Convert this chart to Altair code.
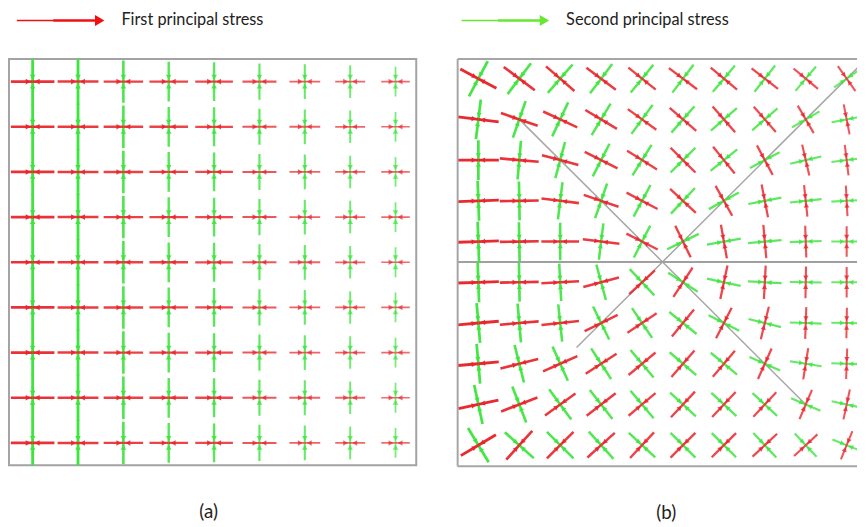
import math
import altair as alt
import pandas as pd

# ---------------- data ----------------
LEGEND_LABELS = ["First principal stress", "Second principal stress"]
PANEL_LABELS = ["(a)", "(b)"]
COLORS = ["#e8262c", "#3fe43f"]

# panel (a): 9 x 9 grid, first principal stress horizontal, second vertical
A_NCOLS = 9
A_NROWS = 9
A_RED_ANGLE = 0.0
A_RED_LEN = [0.96, 0.90, 0.87, 0.85, 0.83, 0.75, 0.68, 0.66, 0.63]     # by column (cell units)
A_GREEN_LEN = [1.02, 1.02, 0.94, 0.88, 0.86, 0.80, 0.77, 0.72, 0.66]   # by column

# panel (b): 10 x 10 grid, angle (deg) of first principal stress, rows top -> bottom
B_NCOLS = 10
B_NROWS = 10
B_RED_ANGLE = [
    [-28, -37, -41, -37, -39, -37, -40, -38, -40, -55],
    [-7, -19, -25, -31, -36, -41, -49, -49, -60, -79],
    [0, -5, -15, -27, -32, -45, -51, -62, -77, -83],
    [2, 1, -7, -19, -28, -43, -61, -79, -84, -87],
    [2, 1, 0, -7, -27, -64, -80, -85, -88, -90],
    [2, 1, 3, 15, 43, 57, 78, 87, 89, 90],
    [5, 5, 6, 26, 34, 51, 63, 76, 88, 89],
    [5, 14, 24, 33, 40, 49, 50, 66, 81, 88],
    [12, 21, 36, 38, 40, 47, 47, 47, 67, 78],
    [31, 48, 45, 42, 47, 45, 45, 43, 43, 68],
]
B_RED_LEN = [1.00, 0.95, 0.92, 0.90, 0.86, 0.86, 0.84, 0.82, 0.78, 0.75]
B_GREEN_LEN = [0.98, 0.95, 0.92, 0.90, 0.88, 0.86, 0.84, 0.82, 0.78, 0.75]

# grey crack lines of panel (b), grid units
B_LINE_X1 = [1.0, 2.4]
B_LINE_Y1 = [1.0, 6.6]
B_LINE_X2 = [8.0, 9.6]
B_LINE_Y2 = [8.0, -0.6]
B_MID_ROW = [4.5]


def field(points, head_d):
    """points: (col, row, angle_deg, length, stress). Returns arm table."""
    recs = []
    for (c, r, th, L, st) in points:
        for s in (1, -1):
            ang = th if s == 1 else th + 180.0
            t = math.radians(ang)
            recs.append({
                "x": c, "y": r,
                "x2": c + L / 2 * math.cos(t),
                "y2": r - L / 2 * math.sin(t),
                "hx": c + head_d * math.cos(t),
                "hy": r - head_d * math.sin(t),
                "ha": (-90.0 - ang) % 360.0,
                "stress": st,
                "mag": L,
            })
    return pd.DataFrame(recs)


a_pts = []
for r in range(A_NROWS):
    for c in range(A_NCOLS):
        a_pts.append((c, r, A_RED_ANGLE + 90.0, A_GREEN_LEN[c], LEGEND_LABELS[1]))
for r in range(A_NROWS):
    for c in range(A_NCOLS):
        a_pts.append((c, r, A_RED_ANGLE, A_RED_LEN[c], LEGEND_LABELS[0]))
df_a = field(a_pts, 0.10)

b_pts = []
for r in range(B_NROWS):
    for c in range(B_NCOLS):
        b_pts.append((c, r, B_RED_ANGLE[r][c] + 90.0, B_GREEN_LEN[c], LEGEND_LABELS[1]))
for r in range(B_NROWS):
    for c in range(B_NCOLS):
        b_pts.append((c, r, B_RED_ANGLE[r][c], B_RED_LEN[c], LEGEND_LABELS[0]))
df_b = field(b_pts, 0.11)

df_lines = pd.DataFrame({"x": B_LINE_X1, "y": B_LINE_Y1, "x2": B_LINE_X2, "y2": B_LINE_Y2})
df_mid = pd.DataFrame({"y": B_MID_ROW})

# ---------------- layout ----------------
FONT = "Lato"
A_W, A_H = 413, 412
B_W, B_H = 405, 413
A_XDOM = [-24 / 46, (A_W - 24) / 46]
A_YDOM = [-23 / 45.8, (A_H - 23) / 45.8]
B_XDOM = [-21 / 41.5, (B_W - 21) / 41.5]
B_YDOM = [-20 / 41.3, (B_H - 20) / 41.3]

color = alt.Color("stress:N", scale=alt.Scale(domain=LEGEND_LABELS, range=COLORS), legend=None)


def x_axis(label, tx):
    return alt.Axis(title=label, labels=False, ticks=False, domain=False, grid=False,
                    titleFont=FONT, titleFontSize=19, titleFontWeight="normal",
                    titleColor="#222222", titleX=tx, titleY=47, titleBaseline="middle")


def arrows(df, xdom, ydom, label, tx, sw_range, op_range, head_size):
    xs = alt.Scale(domain=xdom, nice=False, zero=False)
    ys = alt.Scale(domain=ydom, nice=False, zero=False, reverse=True)
    ax = x_axis(label, tx)
    base = alt.Chart(df)
    rules = base.mark_rule(clip=True, strokeCap="butt").encode(
        x=alt.X("x:Q", scale=xs, axis=ax),
        y=alt.Y("y:Q", scale=ys, axis=None),
        x2="x2:Q", y2="y2:Q",
        color=color,
        strokeWidth=alt.StrokeWidth("mag:Q", scale=alt.Scale(domain=[0.6, 1.02], range=sw_range), legend=None),
        opacity=alt.Opacity("mag:Q", scale=alt.Scale(domain=[0.6, 1.02], range=op_range), legend=None),
    )
    heads = base.mark_point(shape="triangle-up", filled=True, size=head_size, clip=True, strokeWidth=0).encode(
        x=alt.X("hx:Q", scale=xs, axis=ax),
        y=alt.Y("hy:Q", scale=ys, axis=None),
        angle=alt.Angle("ha:Q", scale=None),
        color=color,
        opacity=alt.Opacity("mag:Q", scale=alt.Scale(domain=[0.6, 1.02], range=op_range), legend=None),
    )
    return rules, heads, xs, ys, ax


ra, ha, _, _, _ = arrows(df_a, A_XDOM, A_YDOM, PANEL_LABELS[0], 202, [1.6, 2.9], [0.65, 1.0], 32)
panel_a = alt.layer(ra, ha).properties(
    width=A_W, height=A_H,
    view=alt.ViewBackground(stroke="#a3a3a3", strokeWidth=2),
)

rb, hb, xs_b, ys_b, ax_b = arrows(df_b, B_XDOM, B_YDOM, PANEL_LABELS[1], 211, [1.9, 1.9], [0.95, 0.95], 28)
grey = alt.Chart(df_lines).mark_rule(clip=True, color="#a6a6a6", strokeWidth=1.5).encode(
    x=alt.X("x:Q", scale=xs_b, axis=ax_b), y=alt.Y("y:Q", scale=ys_b, axis=None), x2="x2:Q", y2="y2:Q"
)
mid = alt.Chart(df_mid).mark_rule(color="#a0a0a0", strokeWidth=2).encode(
    y=alt.Y("y:Q", scale=ys_b, axis=None)
)
one = pd.DataFrame({"k": [0]})
frame_style = dict(color="#a6a6a6", strokeWidth=2)
f_top = alt.Chart(one).mark_rule(**frame_style).encode(x=alt.value(0), x2=alt.value(B_W), y=alt.value(0))
f_bot = alt.Chart(one).mark_rule(**frame_style).encode(x=alt.value(0), x2=alt.value(B_W), y=alt.value(B_H))
f_left = alt.Chart(one).mark_rule(**frame_style).encode(x=alt.value(0), y=alt.value(0), y2=alt.value(B_H))
panel_b = alt.layer(grey, mid, rb, hb, f_top, f_bot, f_left).properties(
    width=B_W, height=B_H, view=alt.ViewBackground(stroke=None)
)

# legend row
leg_layers = []
for i, x0 in enumerate([8, 459]):
    src = pd.DataFrame({"label": [LEGEND_LABELS[i]]})
    col = ["#f01010", "#66e832"][i]
    leg_layers.append(alt.Chart(src).mark_rule(color=col, strokeWidth=1.5).encode(
        x=alt.value(x0), x2=alt.value(x0 + 38), y=alt.value(9)))
    leg_layers.append(alt.Chart(src).mark_rule(color=col, strokeWidth=2.5).encode(
        x=alt.value(x0 + 37), x2=alt.value(x0 + 80), y=alt.value(9)))
    leg_layers.append(alt.Chart(src).mark_point(shape="triangle-right", filled=True, opacity=1,
                                                color=col, size=120).encode(
        x=alt.value(x0 + 84), y=alt.value(9)))
    leg_layers.append(alt.Chart(src).mark_text(align="left", baseline="middle", font=FONT,
                                               fontSize=16.5, color="#222222").encode(
        x=alt.value(x0 + 106), y=alt.value(9), text="label:N"))
legend_row = alt.layer(*leg_layers).properties(width=858, height=30, view=alt.ViewBackground(stroke=None))

chart = alt.vconcat(
    legend_row,
    alt.hconcat(panel_a, panel_b, spacing=40),
    spacing=17,
).properties(padding=0, background="white")

chart.save("out.html", embed_options={"renderer": "svg", "actions": False})
